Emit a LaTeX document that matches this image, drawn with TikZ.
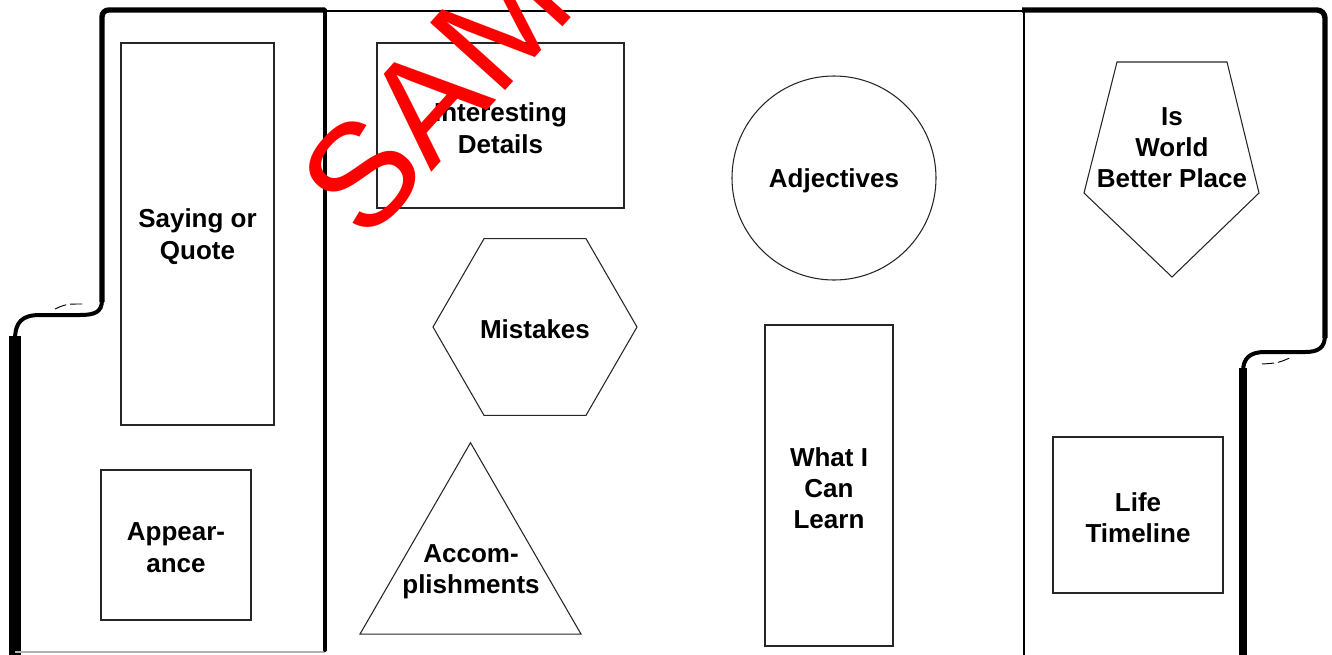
\documentclass[tikz,border=0pt]{standalone}
\usepackage{fontspec}
\setmainfont{Liberation Sans}
\usetikzlibrary{shapes.geometric}

\newcommand{\lblfont}{\fontsize{19.5}{23.5}\selectfont\bfseries}

\tikzset{
  shapebox/.style={draw=black!85, line width=0.8pt, inner sep=0pt, align=center, font=\lblfont},
  lbl/.style={inner sep=0pt, align=center, font=\lblfont, yshift=-2pt},
  fold/.style={line width=4pt},
}

\begin{document}
\begin{tikzpicture}[x=0.75pt, y=-0.75pt]
        \useasboundingbox (0,0) rectangle (1332,654);
        \clip (0,0) rectangle (1332,654);

        % Folder outline
        \draw[fold, rounded corners=5pt] (102,302) -- (102,10) -- (325,10);
        \draw[line width=3pt] (102,300) .. controls (102,312) and (95,315) .. (80,315)
              -- (40,315) .. controls (22,315) and (15,322) .. (15,340);
        \draw[line width=9pt] (15,336) -- (15,656);
        \draw[black!30, line width=1pt] (15,652) -- (325,652);
        \draw[line width=2.2pt] (325,11) -- (1024,11);
        \draw[line width=3pt, line cap=round] (325,10) -- (325,650);
        \draw[line width=2pt] (1024,10) -- (1024,656);
        \draw[fold, rounded corners=6pt] (1022,10) -- (1325,10) -- (1325,338);
        \draw[line width=3pt] (1325,335) .. controls (1325,348) and (1318,352) .. (1305,352)
              -- (1265,352) .. controls (1250,352) and (1243,358) .. (1243,372);
        \draw[line width=6pt] (1243,368) -- (1243,656);
        % fold marks
        \draw[line width=0.7pt, dash pattern=on 9pt off 3pt] (55,309) .. controls (66,304) .. (82,304);
        \draw[line width=0.7pt, dash pattern=on 9pt off 3pt] (1262,364) .. controls (1278,363) .. (1292,357);

        % Left flap
        \node[shapebox, minimum width=114.75pt, minimum height=286.5pt] (quote) at (197.5,234) {};
        \node[lbl] (quotetext) at (quote) {Saying or\\Quote};
        \node[shapebox, minimum width=112.5pt, minimum height=112.5pt] (appear) at (176,545) {};
        \node[lbl] (appeartext) at (appear) {Appear-\\ance};

        % Middle panel
        \node[shapebox, minimum width=185.25pt, minimum height=123.75pt] (details) at (500.5,125.5) {};
        \node[lbl] (detailstext) at (details) {Interesting\\Details};
        \node[shapebox, circle, minimum size=153pt] (adj) at (834,178) {};
        \node[lbl] (adjtext) at (adj) {Adjectives};
        \node[shapebox, regular polygon, regular polygon sides=6, minimum size=153pt] (mistakes) at (535,327) {};
        \node[lbl] (mistakestext) at (mistakes) {Mistakes};
        \node[shapebox, regular polygon, regular polygon sides=3, minimum size=191.4pt] (accomp) at (470.5,570.3) {};
        \node[lbl] (accomptext) at (471,569) {Accom-\\plishments};
        \node[shapebox, minimum width=96pt, minimum height=240.75pt] (learn) at (829,485.5) {};
        \node[lbl] (learntext) at (learn) {What I\\Can\\Learn};

        % Right flap
        \draw[draw=black!85, line width=0.8pt] (1117,62) -- (1227,62) -- (1259,193) -- (1172,277) -- (1084,193) -- cycle;
        \node[lbl] (better) at (1172,145) {Is\\World\\Better Place};
        \node[shapebox, minimum width=127.5pt, minimum height=117pt] (timeline) at (1138,515) {};
        \node[lbl] (timelinetext) at (timeline) {Life\\Timeline};

        % Stamp across the top
        \node[anchor=base west, rotate=48, inner sep=0pt, text=red, font=\fontsize{110}{110}\selectfont] (stamp) at (366,245) {SAMPLE};
\end{tikzpicture}
\end{document}
